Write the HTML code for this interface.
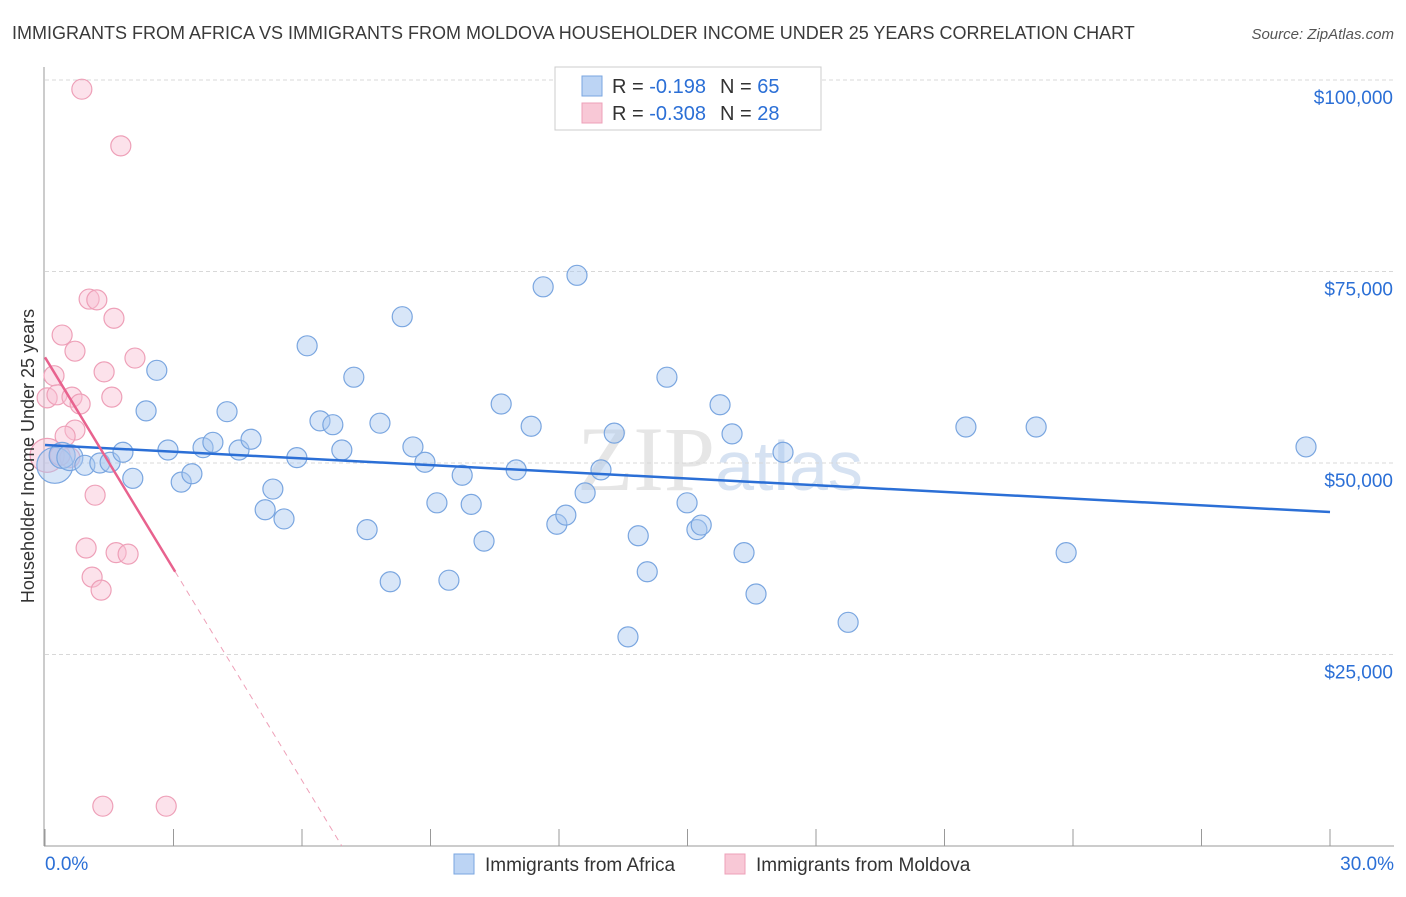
<!DOCTYPE html>
<html><head><meta charset="utf-8"><style>
body{margin:0;background:#fff;font-family:"Liberation Sans",sans-serif}
</style></head><body>
<svg width="1406" height="892" viewBox="0 0 1406 892" xmlns="http://www.w3.org/2000/svg" font-family="Liberation Sans, sans-serif">
<text x="12" y="39" font-size="18" fill="#3a3a3a">IMMIGRANTS FROM AFRICA VS IMMIGRANTS FROM MOLDOVA HOUSEHOLDER INCOME UNDER 25 YEARS CORRELATION CHART</text>
<text x="1394" y="39" font-size="15" fill="#555" font-style="italic" text-anchor="end">Source: ZipAtlas.com</text>
<text x="720" y="490" font-size="92" fill="#e6e6e6" text-anchor="middle" font-family="Liberation Serif, serif">ZIP<tspan fill="#d6e2f2" font-family="Liberation Sans, sans-serif" font-size="70">atlas</tspan></text>
<g id="grid"></g>
<g id="axes"></g>
<g id="marks"></g>
<text transform="translate(34,456) rotate(-90)" font-size="18" fill="#333" text-anchor="middle">Householder Income Under 25 years</text>
<g>
<rect x="555" y="67" width="266" height="63" fill="#fff" stroke="#ccc"/>
<rect x="582" y="76" width="20" height="20" fill="#bcd4f4" stroke="#7aa6e0"/>
<text x="612" y="93" font-size="20" fill="#333">R = <tspan fill="#2b6fd6"> -0.198</tspan><tspan dx="14" fill="#333">N = </tspan><tspan fill="#2b6fd6">65</tspan></text>
<rect x="582" y="103" width="20" height="20" fill="#f8c8d6" stroke="#eea0b8"/>
<text x="612" y="120" font-size="20" fill="#333">R = <tspan fill="#2b6fd6">-0.308</tspan><tspan dx="14" fill="#333">N = </tspan><tspan fill="#2b6fd6">28</tspan></text>
</g>
<g>
<rect x="454" y="854" width="20" height="20" fill="#bcd4f4" stroke="#7aa6e0"/>
<text x="485" y="871" font-size="19" fill="#333">Immigrants from Africa</text>
<rect x="725" y="854" width="20" height="20" fill="#f8c8d6" stroke="#eea0b8"/>
<text x="756" y="871" font-size="19" fill="#333">Immigrants from Moldova</text>
</g>
</svg>
<script>
const yTicks=[25000,50000,75000,100000];
const yTickLabels=["$25,000","$50,000","$75,000","$100,000"];
const xTicks=[0,3,6,9,12,15,18,21,24,27,30];
const africaX=[0.23,0.40,0.58,0.93,1.28,1.52,1.82,2.05,2.36,2.61,2.87,3.18,3.43,3.69,3.92,4.25,4.53,4.81,5.14,5.32,5.58,5.88,6.12,6.42,6.72,6.93,7.21,7.52,7.82,8.06,8.34,8.59,8.87,9.15,9.43,9.74,9.95,10.25,10.65,11.0,11.35,11.63,11.95,12.16,12.42,12.61,12.98,13.29,13.61,13.85,14.06,14.52,14.99,15.22,15.32,15.76,16.04,16.32,16.6,17.23,18.75,21.5,23.14,23.84,29.44];
const africaY=[49.7,51.0,50.7,49.7,50.0,50.1,51.4,48.0,56.8,62.1,51.7,47.5,48.6,52.0,52.7,56.7,51.7,53.1,43.9,46.6,42.7,50.7,65.3,55.5,55.0,51.7,61.2,41.3,55.2,34.5,69.1,52.1,50.1,44.8,34.7,48.4,44.6,39.8,57.7,49.1,54.8,73.0,42.0,43.2,74.5,46.1,49.1,53.9,27.3,40.5,35.8,61.2,44.8,41.3,41.9,57.6,53.8,38.3,32.9,51.4,29.2,54.7,54.7,38.3,52.1];
const moldovaX=[0.86,1.77,1.03,1.21,1.61,0.40,0.70,2.10,1.38,0.21,0.05,0.28,0.63,0.82,1.56,0.70,0.47,0.05,0.58,1.17,0.96,1.66,1.94,1.10,1.31,1.35,2.83,0.35];
const moldovaY=[98.8,91.4,71.4,71.3,68.9,66.7,64.6,63.7,61.9,61.4,58.5,58.9,58.6,57.7,58.6,54.3,53.5,51.0,50.7,45.8,38.9,38.3,38.1,35.1,33.4,5.2,5.2,51.0];
const africaTrend=[52.35,43.6];
const moldovaTrend=[63.8,35.8,3.04,6.93];
const NS="http://www.w3.org/2000/svg";
const X=v=>45+v*(1285/30);
const Y=v=>846-v*7.66;
function mk(tag,attrs,parent){const e=document.createElementNS(NS,tag);for(const k in attrs)e.setAttribute(k,attrs[k]);document.getElementById(parent).appendChild(e);return e;}
yTicks.forEach((t,i)=>{
 const g=mk('line',{x1:45,x2:1394,y1:Y(t/1000),y2:Y(t/1000),stroke:'#d8d8d8','stroke-dasharray':'4,3'},'grid');
 
 
 const l=mk('text',{x:1393,y:Y(t/1000)+24,'font-size':19,fill:'#2b6fd6','text-anchor':'end'},'grid');
 l.textContent=yTickLabels[i];
 
 
});
const ya=mk('line',{x1:44,x2:44,y1:67,y2:846,stroke:'#999'},'axes');


const xa=mk('line',{x1:44,x2:1394,y1:846,y2:846,stroke:'#999'},'axes');


xTicks.forEach(t=>{
 const tk=mk('line',{x1:X(t),x2:X(t),y1:829,y2:846,stroke:'#999'},'axes');
 
 
});
const xl0=mk('text',{x:45,y:870,'font-size':19,fill:'#2b6fd6'},'axes');xl0.textContent=xTicks[0].toFixed(1)+'%';


const xl1=mk('text',{x:1394,y:870,'font-size':19,fill:'#2b6fd6','text-anchor':'end'},'axes');xl1.textContent=xTicks[xTicks.length-1].toFixed(1)+'%';


moldovaX.forEach((v,i)=>{
 const r=(i===17)?17:10;
 const c=mk('circle',{cx:X(v),cy:Y(moldovaY[i]),r:r,fill:'rgba(248,190,210,0.45)',stroke:'#eea0b8','stroke-width':1.2},'marks');
 
 
});
africaX.forEach((v,i)=>{
 const r=(i===0)?18:(i<3?13:10);
 const c=mk('circle',{cx:X(v),cy:Y(africaY[i]),r:r,fill:'rgba(168,200,240,0.45)',stroke:'#7aa6e0','stroke-width':1.2},'marks');
 
 
});
const bt=mk('line',{x1:X(0),y1:Y(africaTrend[0]),x2:X(30),y2:Y(africaTrend[1]),stroke:'#2b6fd6','stroke-width':2.5},'marks');


const pt=mk('line',{x1:X(0),y1:Y(moldovaTrend[0]),x2:X(moldovaTrend[2]),y2:Y(moldovaTrend[1]),stroke:'#e8628e','stroke-width':2.5},'marks');


const pd=mk('line',{x1:X(moldovaTrend[2]),y1:Y(moldovaTrend[1]),x2:X(moldovaTrend[3]),y2:Y(0),stroke:'#eea0b8','stroke-width':1,'stroke-dasharray':'6,5'},'marks');


</script>
</body></html>
